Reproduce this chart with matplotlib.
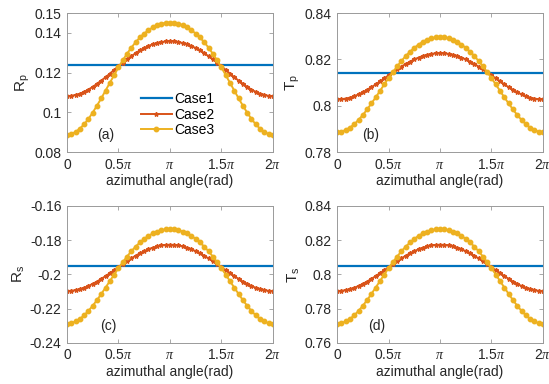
import numpy as np
import matplotlib
matplotlib.use('Agg')
import matplotlib.pyplot as plt

plt.rcParams['font.family'] = ['Liberation Sans', 'DejaVu Sans']
plt.rcParams['mathtext.fontset'] = 'custom'
plt.rcParams['mathtext.rm'] = 'Liberation Sans'
plt.rcParams['mathtext.it'] = 'Liberation Serif:italic'

# azimuthal angle samples (0 .. 2pi, 49 points)
phi = np.linspace(0, 2 * np.pi, 49)

# panel (a) Rp
rp_case1 = 0.1239
rp_case2 = [0.1082, 0.1083, 0.1088, 0.1094, 0.1103, 0.1115, 0.1128, 0.1144, 0.1160, 0.1177,
            0.1195, 0.1214, 0.1232, 0.1250, 0.1267, 0.1283, 0.1298, 0.1312, 0.1324, 0.1334,
            0.1343, 0.1349, 0.1354, 0.1357, 0.1358, 0.1357, 0.1354, 0.1349, 0.1343, 0.1334,
            0.1324, 0.1312, 0.1298, 0.1283, 0.1267, 0.1250, 0.1232, 0.1214, 0.1195, 0.1177,
            0.1160, 0.1144, 0.1128, 0.1115, 0.1103, 0.1094, 0.1088, 0.1083, 0.1082]
rp_case3 = [0.0888, 0.0891, 0.0901, 0.0918, 0.0940, 0.0967, 0.0999, 0.1034, 0.1071, 0.1110,
            0.1149, 0.1188, 0.1226, 0.1262, 0.1295, 0.1326, 0.1353, 0.1377, 0.1397, 0.1414,
            0.1428, 0.1439, 0.1446, 0.1451, 0.1452, 0.1451, 0.1446, 0.1439, 0.1428, 0.1414,
            0.1397, 0.1377, 0.1353, 0.1326, 0.1295, 0.1262, 0.1226, 0.1188, 0.1149, 0.1110,
            0.1071, 0.1034, 0.0999, 0.0967, 0.0940, 0.0918, 0.0901, 0.0891, 0.0888]

# panel (b) Tp
tp_case1 = 0.8142
tp_case2 = [0.8027, 0.8028, 0.8031, 0.8035, 0.8041, 0.8049, 0.8058, 0.8069, 0.8080, 0.8092,
            0.8105, 0.8118, 0.8131, 0.8144, 0.8157, 0.8169, 0.8180, 0.8190, 0.8200, 0.8208,
            0.8215, 0.8220, 0.8224, 0.8226, 0.8227, 0.8226, 0.8224, 0.8220, 0.8215, 0.8208,
            0.8200, 0.8190, 0.8180, 0.8169, 0.8157, 0.8144, 0.8131, 0.8118, 0.8105, 0.8092,
            0.8080, 0.8069, 0.8058, 0.8049, 0.8041, 0.8035, 0.8031, 0.8028, 0.8027]
tp_case3 = [0.7886, 0.7888, 0.7895, 0.7906, 0.7920, 0.7939, 0.7960, 0.7984, 0.8010, 0.8036,
            0.8064, 0.8092, 0.8119, 0.8145, 0.8170, 0.8193, 0.8215, 0.8233, 0.8250, 0.8264,
            0.8276, 0.8285, 0.8291, 0.8295, 0.8296, 0.8295, 0.8291, 0.8285, 0.8276, 0.8264,
            0.8250, 0.8233, 0.8215, 0.8193, 0.8170, 0.8145, 0.8119, 0.8092, 0.8064, 0.8036,
            0.8010, 0.7984, 0.7960, 0.7939, 0.7920, 0.7906, 0.7895, 0.7888, 0.7886]

# panel (c) Rs
rs_case1 = -0.1950
rs_case2 = [-0.2097, -0.2096, -0.2092, -0.2086, -0.2078, -0.2068, -0.2055, -0.2042, -0.2026, -0.2010,
            -0.1993, -0.1976, -0.1958, -0.1940, -0.1923, -0.1907, -0.1891, -0.1877, -0.1865, -0.1853,
            -0.1844, -0.1837, -0.1831, -0.1828, -0.1827, -0.1828, -0.1831, -0.1837, -0.1844, -0.1853,
            -0.1865, -0.1877, -0.1891, -0.1907, -0.1923, -0.1940, -0.1958, -0.1976, -0.1993, -0.2010,
            -0.2026, -0.2042, -0.2055, -0.2068, -0.2078, -0.2086, -0.2092, -0.2096, -0.2097]
rs_case3 = [-0.2288, -0.2285, -0.2275, -0.2260, -0.2239, -0.2213, -0.2183, -0.2150, -0.2114, -0.2077,
            -0.2039, -0.2001, -0.1964, -0.1929, -0.1896, -0.1865, -0.1838, -0.1814, -0.1793, -0.1775,
            -0.1761, -0.1750, -0.1742, -0.1738, -0.1736, -0.1738, -0.1742, -0.1750, -0.1761, -0.1775,
            -0.1793, -0.1814, -0.1838, -0.1865, -0.1896, -0.1929, -0.1964, -0.2001, -0.2039, -0.2077,
            -0.2114, -0.2150, -0.2183, -0.2213, -0.2239, -0.2260, -0.2275, -0.2285, -0.2288]

# panel (d) Ts
ts_case1 = 0.8050
ts_case2 = [0.7903, 0.7904, 0.7908, 0.7914, 0.7922, 0.7932, 0.7945, 0.7958, 0.7974, 0.7990,
            0.8007, 0.8024, 0.8042, 0.8060, 0.8077, 0.8093, 0.8109, 0.8123, 0.8135, 0.8147,
            0.8156, 0.8163, 0.8169, 0.8172, 0.8173, 0.8172, 0.8169, 0.8163, 0.8156, 0.8147,
            0.8135, 0.8123, 0.8109, 0.8093, 0.8077, 0.8060, 0.8042, 0.8024, 0.8007, 0.7990,
            0.7974, 0.7958, 0.7945, 0.7932, 0.7922, 0.7914, 0.7908, 0.7904, 0.7903]
ts_case3 = [0.7712, 0.7715, 0.7725, 0.7740, 0.7761, 0.7787, 0.7817, 0.7850, 0.7886, 0.7923,
            0.7961, 0.7999, 0.8036, 0.8071, 0.8104, 0.8135, 0.8162, 0.8186, 0.8207, 0.8225,
            0.8239, 0.8250, 0.8258, 0.8262, 0.8264, 0.8262, 0.8258, 0.8250, 0.8239, 0.8225,
            0.8207, 0.8186, 0.8162, 0.8135, 0.8104, 0.8071, 0.8036, 0.7999, 0.7961, 0.7923,
            0.7886, 0.7850, 0.7817, 0.7787, 0.7761, 0.7740, 0.7725, 0.7715, 0.7712]

xticks = [0, 0.5 * np.pi, np.pi, 1.5 * np.pi, 2 * np.pi]
xticklabels = ['0', r'0.5$\pi$', r'$\pi$', r'1.5$\pi$', r'2$\pi$']

panels = [
    # rect, ylabel, ylim, yticks, case1, case2, case3, tag, tag position
    ([0.122, 0.604, 0.375, 0.362], r'$\mathrm{R_p}$', (0.08, 0.15),
     [0.08, 0.1, 0.12, 0.14, 0.15], rp_case1, rp_case2, rp_case3, '(a)', (0.145, 0.12)),
    ([0.614, 0.604, 0.375, 0.362], r'$\mathrm{T_p}$', (0.78, 0.84),
     [0.78, 0.8, 0.82, 0.84], tp_case1, tp_case2, tp_case3, '(b)', (0.12, 0.12)),
    ([0.122, 0.107, 0.375, 0.357], r'$\mathrm{R_s}$', (-0.24, -0.16),
     [-0.24, -0.22, -0.2, -0.18, -0.16], rs_case1, rs_case2, rs_case3, '(c)', (0.16, 0.125)),
    ([0.614, 0.107, 0.375, 0.357], r'$\mathrm{T_s}$', (0.76, 0.84),
     [0.76, 0.78, 0.8, 0.82, 0.84], ts_case1, ts_case2, ts_case3, '(d)', (0.15, 0.12)),
]

c1 = '#0072BD'
c2 = '#D95319'
c3 = '#EDB120'

fig = plt.figure(figsize=(5.49, 3.84), dpi=100)
for rect, ylab, ylim, yt, v1, v2, v3, tag, tpos in panels:
    ax = fig.add_axes(rect)
    ax.plot(phi, np.full(len(phi), v1), color=c1, lw=1.6, label='Case1')
    ax.plot(phi, v2, color=c2, lw=1.4, marker='*', ms=3.2, label='Case2')
    ax.plot(phi, v3, color=c3, lw=1.4, marker='o', ms=3.2, label='Case3')
    ax.set_xlim(0, 2 * np.pi)
    ax.set_ylim(*ylim)
    ax.set_xticks(xticks)
    ax.set_xticklabels(xticklabels)
    ax.set_yticks(yt)
    ax.set_yticklabels(['%g' % t for t in yt])
    ax.tick_params(direction='in', length=3, width=0.6, top=True, right=True,
                   labelsize=10, colors='#9a9a9a', labelcolor='#262626', pad=4)
    for s in ax.spines.values():
        s.set_color('#9a9a9a')
        s.set_linewidth(0.7)
    ax.set_xlabel('azimuthal angle(rad)', fontsize=10, color='#262626', labelpad=2)
    ax.set_ylabel(ylab, fontsize=11, color='#262626', labelpad=2)
    ax.text(tpos[0], tpos[1], tag, transform=ax.transAxes, fontsize=10,
            color='#262626', va='center')
    if tag == '(a)':
        ax.legend(loc='upper left', bbox_to_anchor=(0.32, 0.49), frameon=False,
                  fontsize=10, handlelength=2.2, handletextpad=0.15,
                  labelspacing=0.1, borderpad=0.1)

fig.savefig('out.png', dpi=100)
